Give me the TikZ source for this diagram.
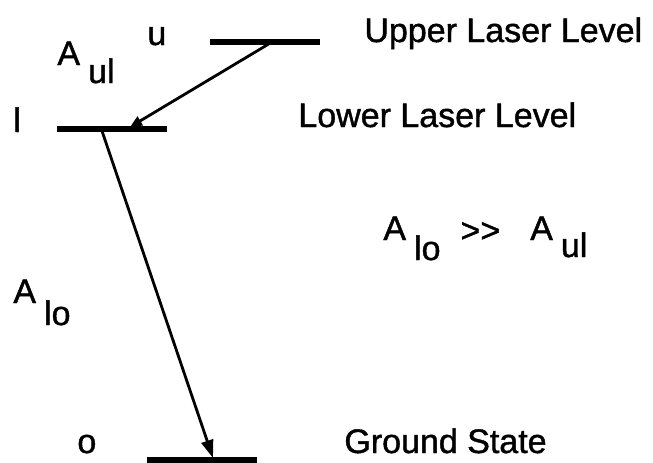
\documentclass[tikz,border=0pt]{standalone}
\usepackage{fontspec}
\setmainfont{Liberation Sans}[FakeBold=1.2]
\usetikzlibrary{arrows.meta, positioning}

\newcommand{\rate}[2]{A\hspace{4pt}\raisebox{-#2}{#1}}

\begin{document}
\begin{tikzpicture}[
  x=0.5pt, y=-0.5pt,
  font=\fontsize{17pt}{20pt}\selectfont,
  lbl/.style={anchor=base west, inner sep=0pt},
  level/.style={line width=2.8pt},
  arr/.style={line width=1.4pt, -{Triangle[length=9pt, width=6pt]}},
  arrs/.style={line width=1.4pt, -{Triangle[length=6pt, width=5pt]}}
]
\useasboundingbox (0,0) rectangle (653,462);

% energy levels
\coordinate (u1) at (210,42);
\coordinate (u2) at (320,42);
\coordinate (l1) at (57,129);
\coordinate (l2) at (167,129);
\coordinate (o1) at (147,460);
\coordinate (o2) at (257,460);
\draw[level] (u1) -- (u2);
\draw[level] (l1) -- (l2);
\draw[level] (o1) -- (o2);

% transitions
\coordinate (uf) at (272,42);
\coordinate (lt) at (130,127);
\coordinate (lf) at (102,131);
\coordinate (ot) at (213,458);
\draw[arrs] (uf) -- (lt);
\draw[arr] (lf) -- (ot);

% labels
\node[lbl] (nu) at (147,45) {u};
\node[lbl] (nl) at (13,132) {l};
\node[lbl] (no) at (77,453) {o};
\node[lbl] (aul) at (57,65) {\rate{ul}{9pt}};
\node[lbl] (alo) at (13,303) {\rate{lo}{11pt}};

\node[lbl] (tu) at (364,42) {Upper Laser Level};
\node[lbl] (tl) at (298,127) {Lower Laser Level};
\node[lbl] (tg) at (344,453) {Ground State};

\node[lbl] (rel) at (383,240)
  {\rate{lo}{10pt}\hspace{10pt}\raisebox{-1pt}{>{}>}\hspace{15pt}\rate{ul}{8.5pt}};
\end{tikzpicture}
\end{document}
